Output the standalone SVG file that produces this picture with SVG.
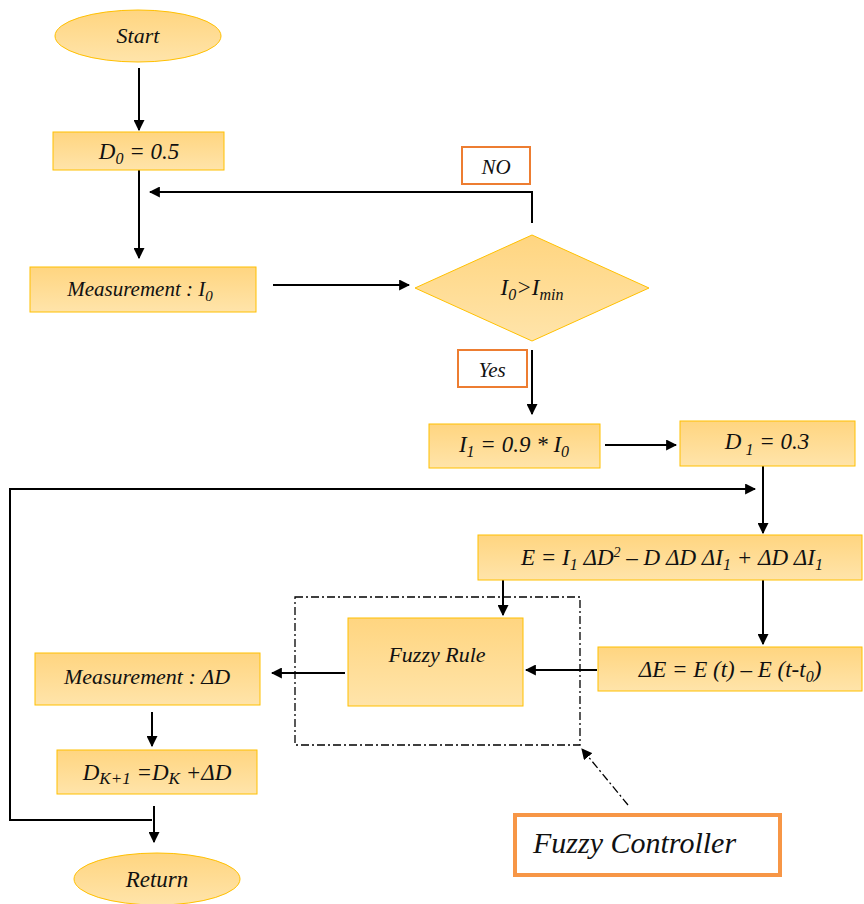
<svg xmlns="http://www.w3.org/2000/svg" width="864" height="904" viewBox="0 0 864 904">
<defs>
<linearGradient id="g" x1="0" y1="0" x2="0" y2="1">
<stop offset="0" stop-color="#FFD580"/>
<stop offset="1" stop-color="#FFE4AA"/>
</linearGradient>
<marker id="ah" viewBox="0 0 10 10" refX="9" refY="5" markerWidth="11" markerHeight="11" markerUnits="userSpaceOnUse" orient="auto">
<path d="M0,0 L10,5 L0,10 z" fill="#000"/>
</marker>
</defs>
<style>
.n{fill:url(#g);stroke:#FFC000;stroke-width:1}
.lb{fill:#fff;stroke:#ED7D31;stroke-width:2}
.m{text-anchor:middle}
.c{fill:none;stroke:#000;stroke-width:2}
.a{marker-end:url(#ah)}
.dd{fill:none;stroke:#000;stroke-width:1.3;stroke-dasharray:8 3 2 3}
</style>
<g id="connectors">
<line class="c a" x1="139" y1="68" x2="139" y2="130"/>
<line class="c a" x1="139" y1="170" x2="139" y2="258"/>
<polyline class="c a" points="532,223 532,192 150,192"/>
<line class="c a" x1="273" y1="285" x2="409" y2="285"/>
<line class="c a" x1="532" y1="350" x2="532" y2="414"/>
<line class="c a" x1="605" y1="445" x2="676" y2="445"/>
<line class="c a" x1="763" y1="466" x2="763" y2="533"/>
<polyline class="c a" points="152,820 10,820 10,489 755,489"/>
<line class="c a" x1="763" y1="580" x2="763" y2="644"/>
<line class="c a" x1="503" y1="580" x2="503" y2="615"/>
<line class="c a" x1="597" y1="670" x2="526" y2="670"/>
<line class="c a" x1="345" y1="673" x2="272" y2="673"/>
<line class="c a" x1="152" y1="712" x2="152" y2="746"/>
<line class="c a" x1="154" y1="806" x2="154" y2="842"/>
<line class="dd a" x1="628" y1="805" x2="582" y2="749"/>
</g>
<g font-family="Liberation Serif, Times New Roman, serif" font-style="italic" fill="#111">
<g id="start"><ellipse class="n" cx="138" cy="36" rx="83" ry="26"/><text class="m" x="138" y="43" font-size="22">Start</text></g>
<g id="d0"><rect class="n" x="53" y="132" width="171" height="38"/><text class="m" x="139" y="159" font-size="23">D<tspan dy="5" font-size="16">0</tspan><tspan dy="-5"> = 0.5</tspan></text></g>
<g id="no"><rect class="lb" x="462" y="147" width="68" height="37"/><text class="m" x="496" y="174" font-size="21">NO</text></g>
<g id="meas0"><rect class="n" x="30" y="267" width="226" height="45"/><text class="m" x="140" y="296" font-size="21">Measurement : I<tspan dy="5" font-size="15">0</tspan></text></g>
<g id="decision"><polygon class="n" points="532,235 649,288 532,341 415,288"/><text class="m" x="532" y="295" font-size="23">I<tspan dy="5" font-size="16">0</tspan><tspan dy="-5">&gt;I</tspan><tspan dy="5" font-size="16">min</tspan></text></g>
<g id="yes"><rect class="lb" x="458" y="350" width="69" height="37"/><text class="m" x="492" y="377" font-size="21">Yes</text></g>
<g id="i1"><rect class="n" x="429" y="424" width="171" height="44"/><text class="m" x="514" y="452" font-size="23">I<tspan dy="5" font-size="16">1</tspan><tspan dy="-5"> = 0.9 * I</tspan><tspan dy="5" font-size="16">0</tspan></text></g>
<g id="d1"><rect class="n" x="680" y="421" width="175" height="45"/><text class="m" x="767" y="449" font-size="23">D<tspan dy="6" font-size="16"> 1</tspan><tspan dy="-6"> = 0.3</tspan></text></g>
<g id="e"><rect class="n" x="478" y="535" width="384" height="45"/><text class="m" x="672" y="565" font-size="23">E = I<tspan dy="5" font-size="16">1</tspan><tspan dy="-5"> ΔD</tspan><tspan dy="-8" font-size="14">2</tspan><tspan dy="8"> – D ΔD ΔI</tspan><tspan dy="5" font-size="16">1</tspan><tspan dy="-5"> + ΔD ΔI</tspan><tspan dy="5" font-size="16">1</tspan></text></g>
<g id="de"><rect class="n" x="598" y="647" width="264" height="44"/><text class="m" x="730" y="677" font-size="23">ΔE = E (t) – E (t-t<tspan dy="5" font-size="16">0</tspan><tspan dy="-5">)</tspan></text></g>
<g id="fuzzycontroller-box"><rect class="dd" x="295" y="597" width="285" height="148"/></g>
<g id="fuzzyrule"><rect class="n" x="348" y="618" width="175" height="88"/><text class="m" x="437" y="662" font-size="22">Fuzzy Rule</text></g>
<g id="measd"><rect class="n" x="35" y="653" width="225" height="52"/><text class="m" x="147" y="684" font-size="22">Measurement : ΔD</text></g>
<g id="dk"><rect class="n" x="57" y="750" width="200" height="44"/><text class="m" x="157" y="780" font-size="23">D<tspan dy="4" font-size="17">K+1</tspan><tspan dy="-4"> =D</tspan><tspan dy="4" font-size="17">K</tspan><tspan dy="-4"> +ΔD</tspan></text></g>
<g id="return"><ellipse class="n" cx="157" cy="879" rx="83" ry="26"/><text class="m" x="157" y="887" font-size="23">Return</text></g>
<g id="fc"><rect fill="#fff" stroke="#F79646" stroke-width="4" x="515" y="815" width="265" height="60"/><text x="533" y="853" font-size="30">Fuzzy Controller</text></g>
</g>
</svg>
